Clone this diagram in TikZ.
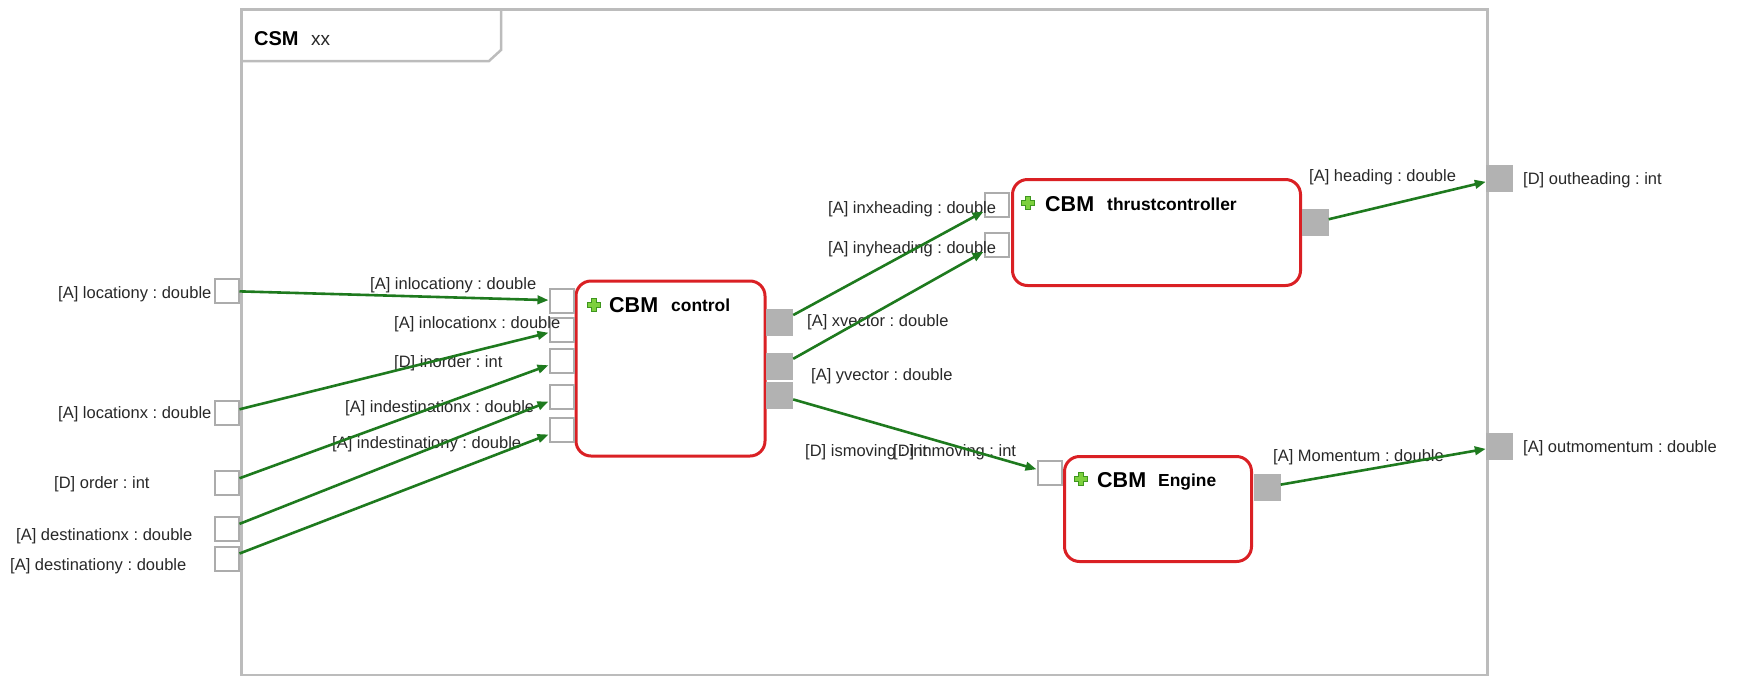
\documentclass[tikz,border=0pt]{standalone}
\usepackage{fontspec}
\setmainfont{Liberation Sans}
\usetikzlibrary{arrows.meta}
\frenchspacing

\definecolor{framegray}{RGB}{188,188,188}
\definecolor{portgray}{RGB}{178,178,178}
\definecolor{portedge}{RGB}{172,172,172}
\definecolor{blockred}{RGB}{218,32,36}
\definecolor{wiregreen}{RGB}{30,122,30}
\definecolor{labelgray}{RGB}{40,40,40}
\definecolor{plusfill}{RGB}{125,208,62}
\definecolor{plusedge}{RGB}{62,150,30}

\begin{document}
\begin{tikzpicture}[x=1pt,y=-1pt,
  lbl/.style={anchor=base west, inner sep=0pt, text=labelgray, font=\fontsize{16.5}{18}\selectfont},
  inport/.style={draw=portedge, line width=2pt, fill=white, minimum size=24pt, inner sep=0pt},
  outport/.style={fill=portgray, minimum size=27pt, inner sep=0pt},
  block/.style={draw=blockred, line width=3pt, rounded corners=15pt, fill=white, inner sep=0pt},
  cbm/.style={anchor=base west, inner sep=0pt, font=\fontsize{21.5}{24}\selectfont\bfseries},
  bname/.style={anchor=base west, inner sep=0pt, font=\fontsize{17.4}{20}\selectfont\bfseries},
  wire/.style={draw=wiregreen, line width=2.6pt, -{Triangle[length=11pt,width=8.5pt]}},
  pics/plusicon/.style={code={
    \filldraw[fill=plusfill, draw=plusedge, line width=0.8pt]
      (-2.4,-6.5) -- (2.4,-6.5) -- (2.4,-2.4) -- (6.5,-2.4) -- (6.5,2.4) -- (2.4,2.4)
      -- (2.4,6.5) -- (-2.4,6.5) -- (-2.4,2.4) -- (-6.5,2.4) -- (-6.5,-2.4) -- (-2.4,-2.4) -- cycle;
  }}
]
\useasboundingbox (0,0) rectangle (1739,675);

% CSM container with its title tab
\node[draw=framegray, line width=2.5pt, minimum width=1246pt, minimum height=666pt,
      inner sep=0pt, anchor=north west] (csm) at (240,8) {};
\draw[framegray, line width=2.5pt] (240,61) -- (489,61) -- (501,50) -- (501,8);
\node[anchor=base west, inner sep=0pt, font=\fontsize{20}{22}\selectfont\bfseries] (csmkey) at (254,45) {CSM};
\node[anchor=base west, inner sep=0pt, text=labelgray, font=\fontsize{19}{22}\selectfont] (csmname) at (311,45) {xx};

% blocks
\node[block, minimum width=189pt, minimum height=175pt] (ctrl) at (670.5,368.5) {};
\node[block, minimum width=288pt, minimum height=106pt] (thrust) at (1156.5,232.5) {};
\node[block, minimum width=187pt, minimum height=105pt] (engine) at (1158,509) {};

\pic at (594,305) {plusicon};
\node[cbm] (ctrlkey) at (609,312.5) {CBM};
\node[bname] (ctrlname) at (671,311) {control};
\pic at (1028,203) {plusicon};
\node[cbm] (thrustkey) at (1045,211.5) {CBM};
\node[bname] (thrustname) at (1107,210) {thrustcontroller};
\pic at (1081,479) {plusicon};
\node[cbm] (enginekey) at (1097,487) {CBM};
\node[bname] (enginename) at (1158,486) {Engine};

% outer input ports
\node[inport] (locy) at (226.5,291) {};
\node[inport] (locx) at (226.5,412.5) {};
\node[inport] (order) at (226.5,483) {};
\node[inport] (destx) at (226.5,529) {};
\node[inport] (desty) at (226.5,558.5) {};

% control ports
\node[inport] (cin1) at (561.5,300.5) {};
\node[inport] (cin2) at (561.5,329.5) {};
\node[inport] (cin3) at (561.5,360.5) {};
\node[inport] (cin4) at (561.5,396.5) {};
\node[inport] (cin5) at (561.5,429.5) {};
\node[outport] (cout1) at (779.5,322.5) {};
\node[outport] (cout2) at (779.5,366.5) {};
\node[outport] (cout3) at (779.5,395.5) {};

% thrustcontroller ports
\node[inport] (tin1) at (996.5,204.5) {};
\node[inport] (tin2) at (996.5,244.5) {};
\node[outport] (tout) at (1315,222.5) {};

% engine ports
\node[inport] (ein) at (1049.5,473) {};
\node[outport] (eout) at (1267,487) {};

% outer output ports
\node[outport] (outh) at (1499.5,178.5) {};
\node[outport] (outm) at (1499.5,446.5) {};

% port labels
\node[lbl] (l1) at (58,298) {[A] locationy : double};
\node[lbl] (l2) at (58,418) {[A] locationx : double};
\node[lbl] (l3) at (54,488) {[D] order : int};
\node[lbl] (l4) at (16,540) {[A] destinationx : double};
\node[lbl] (l5) at (10,570) {[A] destinationy : double};
\node[lbl] (l6) at (370,289) {[A] inlocationy : double};
\node[lbl] (l7) at (394,328) {[A] inlocationx : double};
\node[lbl] (l8) at (394,367) {[D] inorder : int};
\node[lbl] (l9) at (345,412) {[A] indestinationx : double};
\node[lbl] (l10) at (332,448) {[A] indestinationy : double};
\node[lbl] (l11) at (807,326) {[A] xvector : double};
\node[lbl] (l12) at (811,380) {[A] yvector : double};
\node[lbl] (l13) at (805,456) {[D] ismoving : int};
\node[lbl] (l14) at (893,456) {[D] inmoving : int};
\node[lbl] (l15) at (828,213) {[A] inxheading : double};
\node[lbl] (l16) at (828,253) {[A] inyheading : double};
\node[lbl] (l17) at (1309,181) {[A] heading : double};
\node[lbl] (l18) at (1523,184) {[D] outheading : int};
\node[lbl] (l19) at (1273,461) {[A] Momentum : double};
\node[lbl] (l20) at (1523,452) {[A] outmomentum : double};

% connections
\draw[wire] (locy) -- (cin1);
\draw[wire] (locx) -- (cin2);
\draw[wire] (order) -- (cin3);
\draw[wire] (destx) -- (cin4);
\draw[wire] (desty) -- (cin5);
\draw[wire] (cout1) -- (tin1);
\draw[wire] (cout2) -- (tin2);
\draw[wire] (cout3) -- (ein);
\draw[wire] (tout) -- (outh);
\draw[wire] (eout) -- (outm);
\end{tikzpicture}
\end{document}
